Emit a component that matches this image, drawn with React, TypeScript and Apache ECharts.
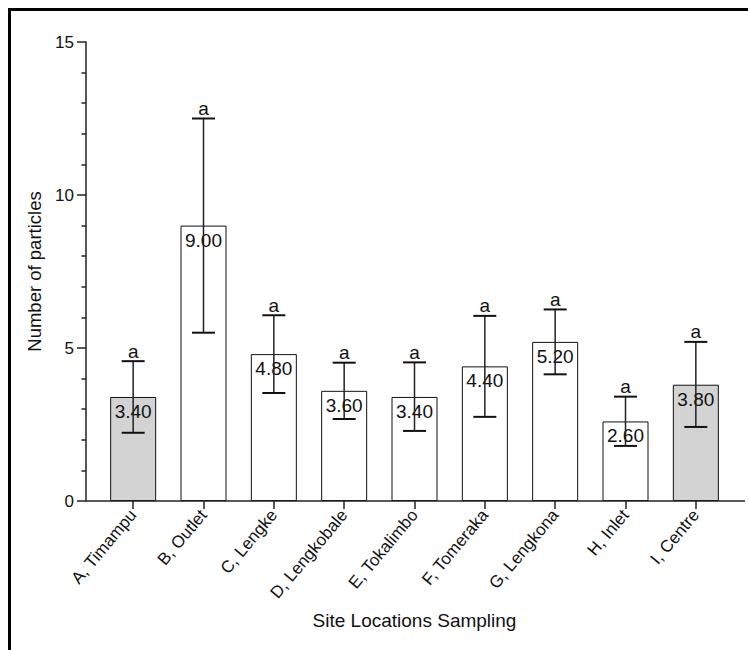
import React, { useEffect, useRef } from "react";
import * as echarts from "echarts";

const categories = [
  "A, Timampu",
  "B, Outlet",
  "C, Lengke",
  "D, Lengkobale",
  "E, Tokalimbo",
  "F, Tomeraka",
  "G, Lengkona",
  "H, Inlet",
  "I, Centre",
];
const means = [3.4, 9.0, 4.8, 3.6, 3.4, 4.4, 5.2, 2.6, 3.8];
const lowErr = [2.23, 5.5, 3.53, 2.68, 2.29, 2.75, 4.14, 1.8, 2.42];
const highErr = [4.57, 12.5, 6.07, 4.52, 4.53, 6.05, 6.26, 3.41, 5.2];
const letters = ["a", "a", "a", "a", "a", "a", "a", "a", "a"];
const shaded = [true, false, false, false, false, false, false, false, true];
const yTicks = [0, 5, 10, 15];

const FONT = "'Liberation Sans', Arial, Helvetica, sans-serif";

export default function App() {
  const ref = useRef<HTMLDivElement>(null);

  useEffect(() => {
    document.body.style.margin = "0";
    if (!ref.current) return;
    const chart = echarts.init(ref.current, undefined, { renderer: "svg" });

    const option: any = {
      animation: false,
      backgroundColor: "#ffffff",
      textStyle: { fontFamily: FONT },
      grid: { left: 98, right: 17, top: 42, bottom: 149, containLabel: false },
      xAxis: {
        type: "category",
        data: categories,
        name: "Site Locations Sampling",
        nameLocation: "middle",
        nameGap: 110,
        nameTextStyle: { fontSize: 19, color: "#111", fontFamily: FONT },
        axisLine: { show: false },
        axisTick: {
          show: true,
          alignWithLabel: true,
          length: 8,
          lineStyle: { color: "#222", width: 1.5 },
        },
        axisLabel: {
          rotate: 50,
          margin: 11,
          fontSize: 17,
          color: "#111",
          fontFamily: FONT,
          interval: 0,
        },
        splitLine: { show: false },
      },
      yAxis: {
        type: "value",
        min: yTicks[0],
        max: yTicks[yTicks.length - 1],
        interval: 5,
        offset: 12,
        name: "Number of particles",
        nameLocation: "middle",
        nameGap: 35,
        nameRotate: 90,
        nameTextStyle: { fontSize: 18.5, color: "#111", fontFamily: FONT },
        axisLine: { show: true, lineStyle: { color: "#222", width: 1.5 } },
        axisTick: { show: true, length: 9, lineStyle: { color: "#222", width: 1.5 } },
        minorTick: { show: true, splitNumber: 5, length: 4.5, lineStyle: { color: "#222", width: 1.5 } },
        axisLabel: { fontSize: 17, color: "#111", margin: 12, fontFamily: FONT },
        splitLine: { show: false },
        minorSplitLine: { show: false },
      },
      graphic: [
        { type: "rect", shape: { x: 8, y: 8, width: 740, height: 3 }, style: { fill: "#000" }, z: 100 },
        { type: "rect", shape: { x: 8, y: 8, width: 3, height: 642 }, style: { fill: "#000" }, z: 100 },
        {
          type: "line",
          shape: { x1: 86, y1: 501, x2: 745, y2: 501 },
          style: { stroke: "#222", lineWidth: 1.5 },
          z: 50,
        },
      ],
      series: [
        {
          type: "bar",
          barWidth: 46,
          data: means.map((v, i) => ({
            value: v,
            itemStyle: {
              color: shaded[i] ? "#d3d3d3" : "#ffffff",
              borderColor: "#111",
              borderWidth: 1,
            },
          })),
          label: {
            show: true,
            position: "insideTop",
            distance: 5,
            fontSize: 19,
            color: "#111",
            fontFamily: FONT,
            formatter: (p: any) => Number(p.value).toFixed(2),
          },
          z: 2,
        },
        {
          type: "custom",
          z: 5,
          data: categories.map((_, i) => [i, lowErr[i], highErr[i]]),
          renderItem: (params: any, api: any) => {
            const idx = api.value(0);
            const lo = api.coord([idx, api.value(1)]);
            const hi = api.coord([idx, api.value(2)]);
            const hw = 11.5;
            const stroke = { stroke: "#222", lineWidth: 1.5 };
            return {
              type: "group",
              children: [
                { type: "line", shape: { x1: hi[0], y1: hi[1], x2: lo[0], y2: lo[1] }, style: stroke },
                { type: "line", shape: { x1: hi[0] - hw, y1: hi[1], x2: hi[0] + hw, y2: hi[1] }, style: { stroke: "#111", lineWidth: 2 } },
                { type: "line", shape: { x1: lo[0] - hw, y1: lo[1], x2: lo[0] + hw, y2: lo[1] }, style: { stroke: "#111", lineWidth: 2 } },
                {
                  type: "text",
                  style: {
                    text: letters[params.dataIndex],
                    x: hi[0],
                    y: hi[1] - 0.5,
                    align: "center",
                    verticalAlign: "bottom",
                    fontSize: 19,
                    fontFamily: FONT,
                    fill: "#111",
                  },
                },
              ],
            };
          },
        },
      ],
    };

    chart.setOption(option);
    return () => chart.dispose();
  }, []);

  return (
    <div
      ref={ref}
      style={{ position: "fixed", left: 0, top: 0, width: 748, height: 650, background: "#fff" }}
    />
  );
}
